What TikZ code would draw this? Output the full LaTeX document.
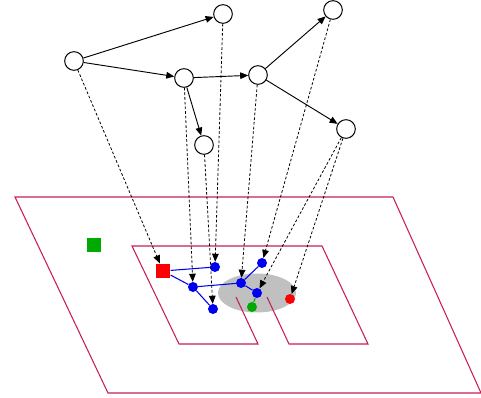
\documentclass[tikz,border=0pt]{standalone}
\usetikzlibrary{arrows.meta}
\definecolor{plane}{RGB}{200,30,90}
\definecolor{dotblue}{RGB}{0,0,240}
\definecolor{dotgreen}{RGB}{0,170,0}
\definecolor{dotred}{RGB}{250,0,0}
\definecolor{blob}{RGB}{192,192,192}
\tikzset{
  top/.style={circle,draw=black,fill=white,line width=0.75pt,minimum size=14pt,inner sep=0pt},
  bdot/.style={circle,fill=dotblue,minimum size=7.5pt,inner sep=0pt},
  gdot/.style={circle,fill=dotgreen,minimum size=7.5pt,inner sep=0pt},
  rdot/.style={circle,fill=dotred,minimum size=7.5pt,inner sep=0pt},
  rsq/.style={rectangle,fill=dotred,minimum size=11pt,inner sep=0pt},
  gsq/.style={rectangle,fill=dotgreen,minimum size=10.5pt,inner sep=0pt},
  solidarrow/.style={-{Triangle[length=6pt,width=5pt]},line width=0.7pt},
  dasharrow/.style={-{Triangle[length=6pt,width=5pt]},line width=0.6pt,dash pattern=on 2pt off 1.5pt},
  planeline/.style={draw=plane,line width=0.8pt},
  bline/.style={draw=dotblue,line width=0.8pt},
}
\begin{document}
\begin{tikzpicture}[x=0.75pt,y=-0.75pt]
\useasboundingbox (0,0) rectangle (481,398);
% planes
\draw[planeline] (15,197) -- (393,197) -- (481,393) -- (108,393) -- cycle;
\fill[blob] (257,293) ellipse [x radius=39, y radius=19.5];
\draw[planeline] (236,297) -- (258,344) -- (179,344) -- (132,246) -- (322,246) -- (368,344) -- (289,344) -- (267,297);
% top graph
\node[top] (A) at (74,61) {};
\node[top] (B) at (223,14) {};
\node[top] (C) at (184,78) {};
\node[top] (D) at (258,75) {};
\node[top] (E) at (333,10) {};
\node[top] (F) at (204,145) {};
\node[top] (G) at (346,129) {};
\draw[solidarrow] (A) -- (B);
\draw[solidarrow] (A) -- (C);
\draw[solidarrow] (C) -- (D);
\draw[solidarrow] (C) -- (F);
\draw[solidarrow] (D) -- (E);
\draw[solidarrow] (D) -- (G);
% bottom graph
\node[gsq] (gs) at (94,245) {};
\node[rsq] (rs) at (163,271) {};
\node[bdot] (b1) at (215,267) {};
\node[bdot] (b2) at (193,287) {};
\node[bdot] (b3) at (213,309) {};
\node[bdot] (b4) at (241,283) {};
\node[bdot] (b5) at (262,263) {};
\node[bdot] (b6) at (257,293) {};
\node[gdot] (gc) at (252,307) {};
\node[rdot] (rc) at (290,299) {};
\draw[bline] (rs) -- (b1);
\draw[bline] (rs) -- (b2);
\draw[bline] (b2) -- (b4);
\draw[bline] (b2) -- (b3);
\draw[bline] (b4) -- (b5);
\draw[bline] (b4) -- (b6);
\draw[draw=dotgreen,line width=0.8pt] (b6) -- (gc);
% projections
\draw[dasharrow] (A) -- (rs);
\draw[dasharrow] (C) -- (b2);
\draw[dasharrow] (B) -- (b1);
\draw[dasharrow] (F) -- (b3);
\draw[dasharrow] (D) -- (b4);
\draw[dasharrow] (E) -- (b5);
\draw[dasharrow] (G) -- (b6);
\draw[dasharrow] (G) -- (rc);
\end{tikzpicture}
\end{document}
